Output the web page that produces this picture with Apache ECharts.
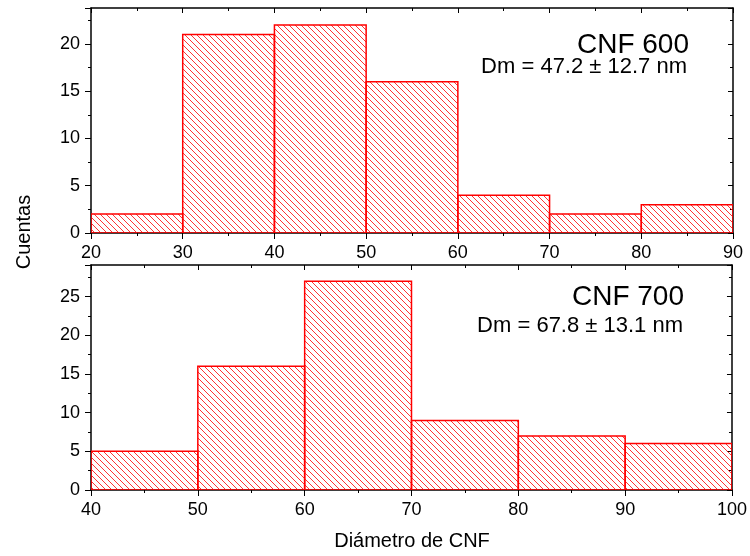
<!DOCTYPE html>
<html>
<head>
<meta charset="utf-8">
<script src="https://cdn.jsdelivr.net/npm/echarts@6/dist/echarts.min.js"></script>
<style>
  body { margin: 0; background: #fff; }
  #chart { width: 750px; height: 556px; }
</style>
</head>
<body>
<div id="chart"></div>
<script>
// datos del histograma
var binStart600 = [20, 30, 40, 50, 60, 70, 80];
var counts600 = [2, 21, 22, 16, 4, 2, 3];
var binStart700 = [40, 50, 60, 70, 80, 90];
var counts700 = [5, 16, 27, 9, 7, 6];
var binWidth = 10;
var label600 = ["CNF 600", "Dm = 47.2 ± 12.7 nm"];
var label700 = ["CNF 700", "Dm = 67.8 ± 13.1 nm"];

var FONT = "'Liberation Sans', Arial, sans-serif";

// patron de rayado
function makeHatch() {
  var s = 6;
  var c = document.createElement('canvas');
  c.width = s; c.height = s;
  var ctx = c.getContext('2d');
  ctx.strokeStyle = '#ff0000';
  ctx.lineWidth = 0.8;
  ctx.beginPath();
  ctx.moveTo(0, 0); ctx.lineTo(s, s);
  ctx.moveTo(-1, s - 1); ctx.lineTo(1, s + 1);
  ctx.moveTo(s - 1, -1); ctx.lineTo(s + 1, 1);
  ctx.stroke();
  return c;
}
var hatch = { image: makeHatch(), repeat: 'repeat' };

function toData(starts, counts) {
  var d = [];
  for (var i = 0; i < starts.length; i++) {
    d.push([starts[i], starts[i] + binWidth, counts[i]]);
  }
  return d;
}

function renderBar(params, api) {
  var p1 = api.coord([api.value(0), api.value(2)]);
  var p2 = api.coord([api.value(1), 0]);
  return {
    type: 'rect',
    shape: { x: p1[0], y: p1[1], width: p2[0] - p1[0], height: p2[1] - p1[1] },
    style: { fill: hatch, stroke: '#ff0000', lineWidth: 1.5 }
  };
}

var line = { onZero: false, lineStyle: { color: '#000', width: 1.5 } };

function xAxes(idx, min, max) {
  return [{
    type: 'value', gridIndex: idx, min: min, max: max, interval: 10,
    axisLine: line, splitLine: { show: false },
    axisTick: { show: true, length: 6, lineStyle: { color: '#000', width: 1 } },
    minorTick: { show: true, splitNumber: 2, length: 3, lineStyle: { color: '#000' } },
    axisLabel: { color: '#000', fontSize: 18, fontFamily: FONT, margin: 11 }
  }, {
    type: 'value', gridIndex: idx, min: min, max: max, interval: 10, position: 'top',
    axisLine: line, splitLine: { show: false },
    axisTick: { show: true, inside: true, length: 5, lineStyle: { color: '#000' } },
    minorTick: { show: true, splitNumber: 2, length: 3, lineStyle: { color: '#000' } },
    axisLabel: { show: false }
  }];
}

function yAxes(idx, max) {
  return [{
    type: 'value', gridIndex: idx, min: 0, max: max, interval: 5,
    axisLine: line, splitLine: { show: false },
    axisTick: { show: true, length: 6, lineStyle: { color: '#000' } },
    minorTick: { show: true, splitNumber: 2, length: 3, lineStyle: { color: '#000' } },
    axisLabel: {
      color: '#000', fontSize: 18, fontFamily: FONT, margin: 11, showMaxLabel: false,
      formatter: function (v) { return v % 5 === 0 ? String(v) : ''; }
    }
  }, {
    type: 'value', gridIndex: idx, min: 0, max: max, interval: 5, position: 'right',
    axisLine: line, splitLine: { show: false },
    axisTick: { show: true, inside: true, length: 5, lineStyle: { color: '#000' } },
    minorTick: { show: true, splitNumber: 2, length: 3, lineStyle: { color: '#000' } },
    axisLabel: { show: false }
  }];
}

function txt(x, y, s, size) {
  return {
    type: 'text', x: x, y: y,
    style: { text: s, fill: '#000', font: size + 'px ' + FONT, textAlign: 'right', textVerticalAlign: 'middle' }
  };
}

var chart = echarts.init(document.getElementById('chart'));
chart.setOption({
  animation: false,
  backgroundColor: '#fff',
  grid: [
    { left: 91, right: 17, top: 8, height: 225 },
    { left: 91, right: 17, top: 265, height: 225 }
  ],
  xAxis: xAxes(0, 20, 90).concat(xAxes(1, 40, 100)),
  yAxis: yAxes(0, 23.8).concat(yAxes(1, 29.1)),
  series: [
    { type: 'custom', xAxisIndex: 0, yAxisIndex: 0, renderItem: renderBar, data: toData(binStart600, counts600), clip: true },
    { type: 'custom', xAxisIndex: 2, yAxisIndex: 2, renderItem: renderBar, data: toData(binStart700, counts700), clip: true }
  ],
  graphic: [
    txt(689, 45, label600[0], 28),
    txt(687, 67, label600[1], 22),
    txt(684, 297, label700[0], 28),
    txt(683, 326, label700[1], 22),
    {
      type: 'text', x: 24, y: 232, rotation: Math.PI / 2,
      style: { text: 'Cuentas', fill: '#000', font: '20px ' + FONT, textAlign: 'center', textVerticalAlign: 'middle' }
    },
    {
      type: 'text', x: 412, y: 541,
      style: { text: 'Diámetro de CNF', fill: '#000', font: '20px ' + FONT, textAlign: 'center', textVerticalAlign: 'middle' }
    }
  ]
});
</script>
</body>
</html>
